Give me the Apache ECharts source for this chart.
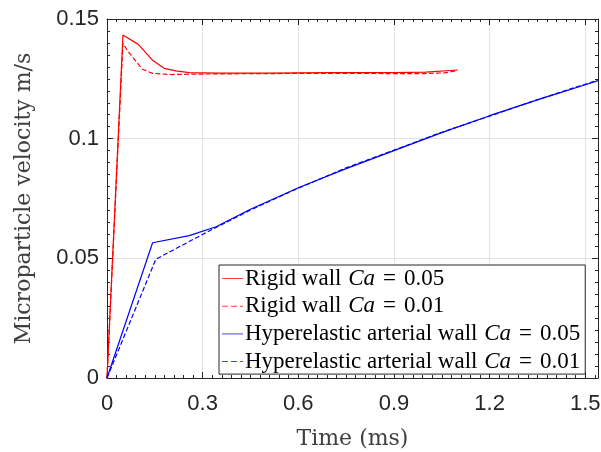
<!DOCTYPE html>
<html><head><meta charset="utf-8">
<script src="https://cdn.jsdelivr.net/npm/echarts@6/dist/echarts.min.js"></script>
<style>html,body{margin:0;padding:0;background:#fff}#c{width:601px;height:452px}</style>
</head><body><div id="c"></div>
<script>
const seriesNames = ['Rigid wall Ca = 0.05', 'Rigid wall Ca = 0.01', 'Hyperelastic arterial wall Ca = 0.05', 'Hyperelastic arterial wall Ca = 0.01'];
const rigid05_t = [0, 0.05, 0.098, 0.142, 0.179, 0.216, 0.258, 0.35, 0.5, 0.7, 0.9, 1.0, 1.1];
const rigid05_v = [0, 0.1433, 0.1394, 0.1329, 0.1294, 0.1283, 0.1276, 0.1274, 0.1274, 0.1276, 0.1276, 0.1278, 0.1287];
const rigid01_t = [0, 0.05, 0.064, 0.111, 0.143, 0.2, 0.3, 0.5, 0.7, 0.9, 1.0, 1.06, 1.1];
const rigid01_v = [0, 0.1399, 0.1368, 0.129, 0.1273, 0.1268, 0.127, 0.1272, 0.1273, 0.1272, 0.1272, 0.1275, 0.1285];
const hyper05_t = [0, 0.143, 0.258, 0.342, 0.45, 0.6, 0.75, 0.9, 1.05, 1.2, 1.35, 1.54];
const hyper05_v = [0, 0.0565, 0.0595, 0.0632, 0.0705, 0.0795, 0.0875, 0.095, 0.1025, 0.1096, 0.1162, 0.1242];
const hyper01_t = [0, 0.153, 0.33, 0.45, 0.6, 0.75, 0.9, 1.05, 1.2, 1.35, 1.54];
const hyper01_v = [0, 0.0496, 0.0621, 0.0702, 0.0793, 0.0878, 0.0952, 0.1027, 0.1094, 0.1163, 0.1245];
const xTicks = [0, 0.3, 0.6, 0.9, 1.2, 1.5];
const yTicks = [0, 0.05, 0.1, 0.15];

const pairs = (t, v) => t.map((x, i) => [x, v[i]]);
const axisColor = '#262626';
const serif = 'DejaVu Serif';
const legendSerif = 'Liberation Serif';
const sans = 'Liberation Sans';

function mkX(pos, labels) {
  return {
    type: 'value', position: pos, min: 0, max: 1.54, interval: 0.3,
    axisLine: {show: true, onZero: false, lineStyle: {color: axisColor, width: 1}},
    axisTick: {show: true, inside: true, length: 6, lineStyle: {color: axisColor}},
    minorTick: {show: true, splitNumber: 10, length: 3, lineStyle: {color: axisColor}},
    splitLine: {show: labels, lineStyle: {color: '#e3e3e3', width: 1}},
    axisLabel: {show: labels, showMaxLabel: false, color: axisColor, fontFamily: sans, fontSize: 22, margin: 15},
    name: labels ? 'Time (ms)' : '', nameLocation: 'middle', nameGap: 50,
    nameTextStyle: {fontFamily: serif, fontSize: 22, color: '#404040'}
  };
}
function mkY(pos, labels) {
  return {
    type: 'value', position: pos, min: 0, max: 0.15, interval: 0.05,
    axisLine: {show: true, onZero: false, lineStyle: {color: axisColor, width: 1}},
    axisTick: {show: true, inside: true, length: 6, lineStyle: {color: axisColor}},
    minorTick: {show: true, splitNumber: 10, length: 3, lineStyle: {color: axisColor}},
    splitLine: {show: labels, lineStyle: {color: '#e3e3e3', width: 1}},
    axisLabel: {show: labels, color: axisColor, fontFamily: sans, fontSize: 22, margin: 8},
    name: labels ? 'Microparticle velocity m/s' : '', nameLocation: 'middle', nameGap: 72,
    nameTextStyle: {fontFamily: serif, fontSize: 22, color: '#404040'}
  };
}

const colors = ['#ff0000', '#ff0000', '#0000ff', '#0000ff'];
const types = ['solid', 'dashed', 'solid', 'dashed'];
const datas = [pairs(rigid05_t, rigid05_v), pairs(rigid01_t, rigid01_v), pairs(hyper05_t, hyper05_v), pairs(hyper01_t, hyper01_v)];
const solidIcon = 'path://M0,0h21v1h-21z';
const dashIcon = 'path://M0,0h6v1h-6zM9,0h6v1h-6zM18,0h3v1h-3z';

const chart = echarts.init(document.getElementById('c'), null, {renderer: 'canvas'});
chart.setOption({
  animation: false,
  grid: {left: 107, right: 3, top: 19, bottom: 74, containLabel: false, outerBoundsMode: 'none'},
  xAxis: [mkX('bottom', true), mkX('top', false)],
  yAxis: [mkY('left', true), mkY('right', false)],
  legend: {
    orient: 'vertical', left: 219, top: 265,
    backgroundColor: '#fff', borderColor: axisColor, borderWidth: 1,
    padding: [2, 5, 1, 3], itemGap: 4.7, itemWidth: 21, itemHeight: 1.4,
    data: seriesNames.map((n, i) => ({name: n, icon: types[i] === 'solid' ? solidIcon : dashIcon, itemStyle: {color: colors[i], opacity: 0.75}})),
    formatter: function (name) {
      const parts = name.split('Ca');
      const rest = parts[1].replace(' = ', '');
      return '{n|' + parts[0] + '}{i|Ca}{e|=}{n|' + rest + '}';
    },
    textStyle: {
      fontFamily: legendSerif, fontSize: 23, color: '#000', padding: [0, 0, 0, -3],
      rich: {
        n: {fontFamily: legendSerif, fontSize: 23, color: '#000', lineHeight: 22},
        i: {fontFamily: legendSerif, fontSize: 23, fontStyle: 'italic', color: '#000', lineHeight: 22, padding: [0, 2, 0, 1]},
        e: {fontFamily: legendSerif, fontSize: 23, color: '#000', lineHeight: 22, padding: [0, 8, 0, 6]}
      }
    }
  },
  series: seriesNames.map((n, i) => ({
    name: n, type: 'line', data: datas[i], xAxisIndex: 0, yAxisIndex: 0,
    symbol: 'none', showSymbol: false,
    lineStyle: {color: colors[i], width: 1.2, type: types[i]},
    itemStyle: {color: colors[i]}
  }))
});
</script></body></html>
